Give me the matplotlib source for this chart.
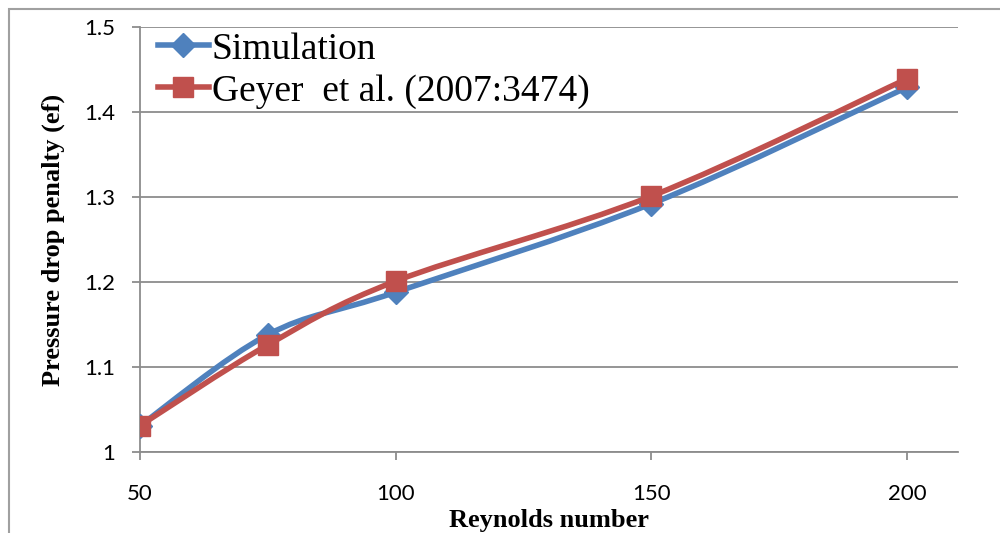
import numpy as np
import matplotlib.pyplot as plt
from matplotlib.path import Path
from matplotlib.patches import PathPatch, Rectangle
from matplotlib.lines import Line2D

# data
reynolds = [50, 75, 100, 150, 200]
simulation = [1.031, 1.138, 1.188, 1.292, 1.429]
geyer = [1.031, 1.126, 1.201, 1.301, 1.439]

blue = '#4F81BD'
red = '#C0504D'
grey = '#8C8C8C'


def smooth_path(x, y):
    # excel-like smoothed line: cubic bezier segments through the points
    pts = np.column_stack([x, y]).astype(float)
    n = len(pts)
    verts = [pts[0]]
    codes = [Path.MOVETO]
    for i in range(n - 1):
        p0 = pts[i - 1] if i > 0 else pts[i]
        p1 = pts[i]
        p2 = pts[i + 1]
        p3 = pts[i + 2] if i + 2 < n else pts[i + 1]
        c1 = p1 + (p2 - p0) / 6.0
        c2 = p2 - (p3 - p1) / 6.0
        verts += [c1, c2, p2]
        codes += [Path.CURVE4] * 3
    return Path(verts, codes)


fig = plt.figure(figsize=(10, 5.33), dpi=100)
ax = fig.add_axes([0.14, 0.152, 0.818, 0.7973])

for ys, col, mk, ms, z in [(simulation, blue, 'D', 12, 3), (geyer, red, 's', 14, 4)]:
    ax.add_patch(PathPatch(smooth_path(reynolds, ys), facecolor='none', edgecolor=col,
                           lw=4, capstyle='round', joinstyle='round', zorder=z))
    ax.plot(reynolds, ys, linestyle='none', marker=mk, ms=ms, color=col, zorder=z + 0.5)

ax.set_xlim(50, 210)
ax.set_ylim(1, 1.5)
ax.set_xticks([50, 100, 150, 200])
ax.set_yticks([1, 1.1, 1.2, 1.3, 1.4, 1.5])
ax.set_yticklabels(['1', '1.1', '1.2', '1.3', '1.4', '1.5'])
ax.grid(axis='y', color=grey, lw=1.3)
ax.set_axisbelow(True)

for s in ['top', 'right']:
    ax.spines[s].set_visible(False)
for s in ['left', 'bottom']:
    ax.spines[s].set_color(grey)
    ax.spines[s].set_linewidth(1.3)

ax.tick_params(axis='both', colors=grey, width=1.3, length=6, labelcolor='black', labelsize=16)
ax.tick_params(axis='y', pad=12)
ax.tick_params(axis='x', pad=17)
for lab in ax.get_xticklabels() + ax.get_yticklabels():
    lab.set_family('Lato')

ax.set_xlabel('Reynolds number', family='Liberation Serif', fontsize=19, fontweight='bold', labelpad=4)
ax.set_ylabel('Pressure drop penalty (ef)', family='Liberation Serif', fontsize=19, fontweight='bold', labelpad=14)

handles = [
    Line2D([], [], color=blue, lw=4, marker='D', ms=12),
    Line2D([], [], color=red, lw=4, marker='s', ms=14),
]
ax.legend(handles, ['Simulation', 'Geyer  et al. (2007:3474)'], loc='upper left',
          bbox_to_anchor=(-0.01, 1.05), frameon=False, handlelength=1.35, handletextpad=0.08,
          labelspacing=0.2, borderaxespad=0.3, prop={'family': 'Liberation Serif', 'size': 27})

# outer chart border
fig.patches.append(Rectangle((0.009, -0.1), 1.2, 0.983 + 0.1, transform=fig.transFigure,
                             facecolor='none', edgecolor='#A0A0A0', lw=1.5))

fig.savefig('out.png', dpi=100)
